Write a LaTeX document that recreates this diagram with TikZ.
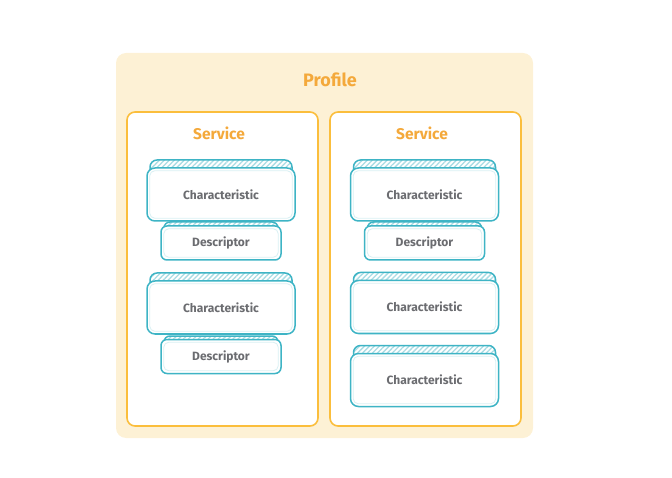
\documentclass[tikz,border=0pt]{standalone}
\usepackage{fontspec}
\setmainfont{Fira Sans}
\usetikzlibrary{patterns.meta}
\definecolor{cream}{HTML}{FDF1D5}
\definecolor{orangeline}{HTML}{FBBE3C}
\definecolor{orangetext}{HTML}{F4A93B}
\definecolor{tealline}{HTML}{3EB4C5}
\definecolor{hatchc}{HTML}{A9DCE4}
\definecolor{innerline}{HTML}{D9F0F3}
\definecolor{graytext}{HTML}{6B6C70}
\tikzset{
  profilebox/.style={fill=cream, draw=none, rounded corners=10pt, inner sep=0pt},
  servicebox/.style={fill=white, draw=orangeline, line width=1.6pt, rounded corners=8pt, inner sep=0pt,
    minimum width=191pt, minimum height=314pt},
  backcard/.style={draw=tealline, line width=1.5pt, rounded corners=7pt, inner sep=0pt,
    pattern={Lines[angle=45,distance=3.5pt,line width=1.3pt]}, pattern color=hatchc},
  frontcard/.style={draw=tealline, line width=1.5pt, fill=white, rounded corners=8pt, inner sep=0pt,
    text=graytext, font=\bfseries\fontsize{12}{14}\selectfont},
  charcard/.style={frontcard, minimum width=148pt, minimum height=53pt},
  charback/.style={backcard, minimum width=142pt, minimum height=53pt},
  desccard/.style={frontcard, minimum width=120pt, minimum height=34pt, rounded corners=6pt},
  descback/.style={backcard, minimum width=114pt, minimum height=34pt, rounded corners=6pt},
  titletext/.style={text=orangetext, font=\bfseries\fontsize{18}{20}\selectfont},
  servicetext/.style={text=orangetext, font=\bfseries\fontsize{15.5}{17}\selectfont},
  inset/.style={draw=innerline, line width=0.8pt, rounded corners=5pt},
}
\begin{document}
\begin{tikzpicture}[x=1pt,y=-1pt]
\useasboundingbox (0,0) rectangle (672,478);
% profile
\node[profilebox, minimum width=417pt, minimum height=385pt] (profile) at (324.5,245.5) {};
\node[titletext] (profilet) at (330,80) {Profile};
% services
\node[servicebox] (s1) at (222.5,269) {};
\node[servicebox] (s2) at (425.5,269) {};
\node[servicetext] (s1t) at (219,133) {Service};
\node[servicetext] (s2t) at (422,133) {Service};
% left service
\node[charback] (l1b) at (221,186.5) {};
\node[charcard] (l1) at (221,194.5) {Characteristic};
\node[descback] (l2b) at (221,239) {};
\node[desccard] (l2) at (221,243) {Descriptor};
\node[charback] (l3b) at (221,299.5) {};
\node[charcard] (l3) at (221,307.5) {Characteristic};
\node[descback] (l4b) at (221,353) {};
\node[desccard] (l4) at (221,356.5) {Descriptor};
% right service
\node[charback] (r1b) at (424.5,186.5) {};
\node[charcard] (r1) at (424.5,194.5) {Characteristic};
\node[descback] (r2b) at (424.5,239) {};
\node[desccard] (r2) at (424.5,243) {Descriptor};
\node[charback] (r3b) at (424.5,299) {};
\node[charcard] (r3) at (424.5,307) {Characteristic};
\node[charback] (r4b) at (424.5,372) {};
\node[charcard] (r4) at (424.5,380) {Characteristic};
% inner faint outlines
\foreach \n in {l1,l2,l3,l4,r1,r2,r3,r4}{
  \draw[inset] ([shift={(3.5pt,3.5pt)}]\n.south west) rectangle ([shift={(-3.5pt,-3.5pt)}]\n.north east);
}
\end{tikzpicture}
\end{document}
